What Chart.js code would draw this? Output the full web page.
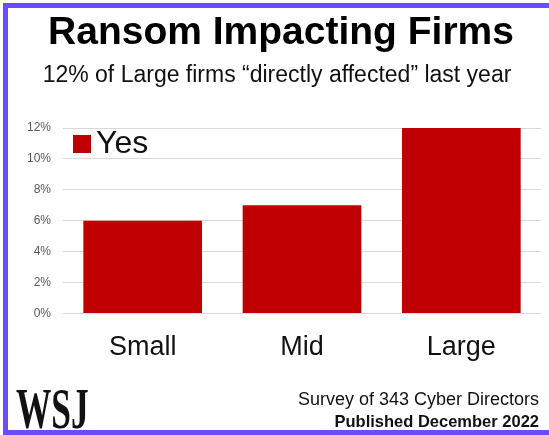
<!DOCTYPE html>
<html>
<head>
<meta charset="utf-8">
<script src="https://cdn.jsdelivr.net/npm/chart.js@4"></script>
<style>
    body { margin: 0; width: 549px; height: 435px; overflow: hidden; background: #fff; font-family: "Liberation Sans", Arial, sans-serif; }
    .marco { position: absolute; left: 3px; top: 3px; width: 600px; height: 432px; box-sizing: border-box; border: 5px solid #6c4cf8; border-right: none; }
    .contenedor { position: absolute; left: 0; top: 0; width: 549px; height: 435px; }
    .titulo { position: absolute; left: 0; width: 562px; top: 11px; text-align: center; font-size: 39px; font-weight: bold; line-height: 1; color: #000; white-space: nowrap; }
    .subtitulo { position: absolute; left: 0; width: 554px; top: 63px; text-align: center; font-size: 23px; line-height: 1; color: #111; white-space: nowrap; }
    .logo { position: absolute; left: 16px; top: 380px; font-family: "Liberation Serif", "DejaVu Serif", serif; font-weight: bold; font-size: 57px; line-height: 1; transform: scaleX(0.62); transform-origin: left top; color: #111; }
    .fuente { position: absolute; right: 10px; text-align: right; line-height: 1; color: #111; white-space: nowrap; }
</style>
</head>
<body>
<div class="marco"></div>
<div class="contenedor"><canvas id="GraficoRansom" width="549" height="435"></canvas></div>
<div class="titulo">Ransom Impacting Firms</div>
<div class="subtitulo">12% of Large firms “directly affected” last year</div>
<div class="logo">WSJ</div>
<div class="fuente" style="top: 390px; font-size: 18px;">Survey of 343 Cyber Directors</div>
<div class="fuente" style="top: 413px; font-size: 16.5px; font-weight: bold;">Published December 2022</div>
<script>
const categorias = ['Small', 'Mid', 'Large'];
const valoresYes = [6, 7, 12];
const etiquetaSerie = 'Yes';
const yMax = 12;
const yPaso = 2;

// leyenda dentro del area del grafico, arriba a la izquierda
const leyendaInterna = {
    id: 'leyendaInterna',
    afterDraw(chart) {
        const ctx = chart.ctx;
        const area = chart.chartArea;
        const ds = chart.data.datasets[0];
        ctx.save();
        ctx.fillStyle = ds.backgroundColor;
        ctx.fillRect(area.left + 10, area.top + 7, 18, 18);
        ctx.fillStyle = '#111';
        ctx.font = '32px "Liberation Sans", Arial, sans-serif';
        ctx.textBaseline = 'alphabetic';
        ctx.fillText(ds.label, area.left + 33, area.top + 25);
        ctx.restore();
    }
};

let ctx = document.getElementById('GraficoRansom').getContext('2d');
new Chart(ctx, {
    type: 'bar',
    data: {
        labels: categorias,
        datasets: [{
            label: etiquetaSerie,
            data: valoresYes,
            backgroundColor: '#c00000',
            borderWidth: 0,
            barPercentage: 0.745,
            categoryPercentage: 1
        }]
    },
    options: {
        responsive: false,
        animation: false,
        layout: { padding: { top: 128, bottom: 61, left: 15, right: 8 } },
        plugins: {
            legend: { display: false },
            tooltip: { enabled: false }
        },
        scales: {
            x: {
                grid: { display: false },
                border: { display: false },
                ticks: {
                    color: '#111',
                    padding: 10,
                    font: { family: '"Liberation Sans", Arial, sans-serif', size: 27 }
                }
            },
            y: {
                min: 0,
                max: yMax,
                border: { display: false },
                grid: { color: '#d9d9d9', drawTicks: false },
                ticks: {
                    stepSize: yPaso,
                    padding: 12,
                    color: '#595959',
                    font: { family: '"Liberation Sans", Arial, sans-serif', size: 12 },
                    callback: v => v + '%'
                }
            }
        }
    },
    plugins: [leyendaInterna]
});
</script>
</body>
</html>
